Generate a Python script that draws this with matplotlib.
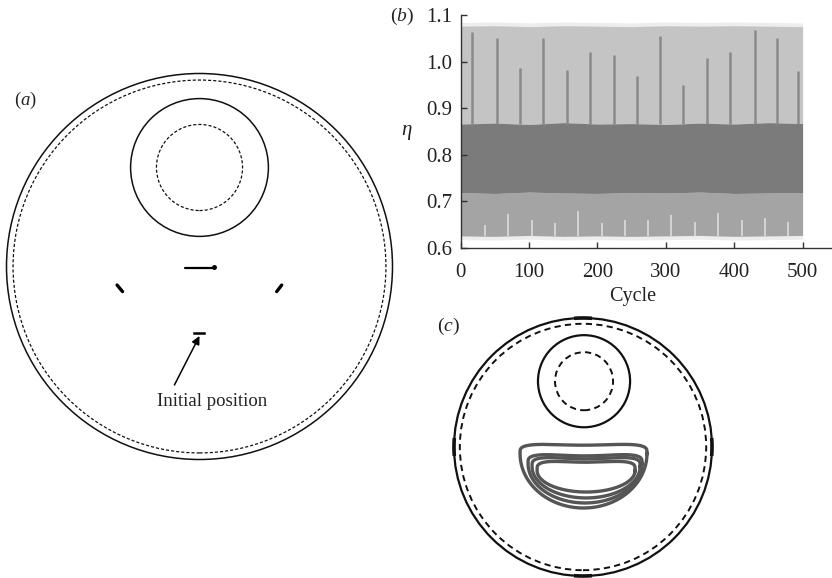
import numpy as np
import matplotlib
matplotlib.use("Agg")
import matplotlib.pyplot as plt
from matplotlib.patches import Circle, Arc

plt.rcParams['font.family'] = ['Liberation Serif', 'DejaVu Serif']
plt.rcParams['mathtext.fontset'] = 'custom'
plt.rcParams['mathtext.rm'] = 'Liberation Serif'
plt.rcParams['mathtext.it'] = 'Liberation Serif:italic'

# ---- panel (b): efficiency eta over 500 cycles ----
cycle_grid = [0, 50, 100, 150, 200, 250, 300, 350, 400, 450, 500]
light_top = [1.076, 1.077, 1.075, 1.077, 1.076, 1.075, 1.077, 1.076, 1.077, 1.076, 1.075]
light_bottom = [0.626, 0.625, 0.627, 0.625, 0.626, 0.625, 0.626, 0.627, 0.625, 0.626, 0.627]
dark_top = [0.866, 0.868, 0.865, 0.869, 0.866, 0.867, 0.865, 0.868, 0.866, 0.869, 0.867]
dark_bottom = [0.719, 0.717, 0.720, 0.718, 0.717, 0.719, 0.718, 0.720, 0.717, 0.718, 0.719]
spike_cycles = [16, 53, 87, 121, 155, 189, 224, 258, 291, 325, 360, 394, 430, 462, 494]
spike_tops = [1.064, 1.05, 0.986, 1.05, 0.982, 1.02, 1.014, 0.97, 1.054, 0.95, 1.007, 1.02, 1.068, 1.05, 0.98]
notch_cycles = [35, 69, 104, 138, 172, 206, 240, 274, 308, 343, 376, 411, 445, 479]
notch_tops = [0.65, 0.674, 0.66, 0.653, 0.68, 0.653, 0.66, 0.66, 0.67, 0.655, 0.675, 0.66, 0.665, 0.655]
x_ticks = [0, 100, 200, 300, 400, 500]
y_ticks = [0.6, 0.7, 0.8, 0.9, 1.0, 1.1]

# ---- panels (a) and (c): geometry, outer radius = 1 ----
outer_dashed_a = 0.966
inner_center_a = (0.0, 0.513)
inner_radius_a = 0.357
inner_dashed_a = 0.223
mark_segments = [((-0.075, -0.008), (0.068, -0.008)),
                 ((-0.427, -0.096), (-0.399, -0.13)),
                 ((0.426, -0.096), (0.40, -0.13))]
start_segment = ((-0.027, -0.343), (0.025, -0.343))
arrow_tail = (-0.13, -0.614)
arrow_head = (0.0, -0.36)
label_pos = (0.066, -0.70)

outer_dashed_c = 0.955
inner_center_c = (0.008, 0.51)
inner_radius_c = 0.357
inner_dashed_c = 0.225
knob_angles = [90, 180, 0, 270]
loop_cx = [0.004, 0.016, 0.024, 0.024]
loop_halfwidth = [0.492, 0.442, 0.419, 0.38]
loop_top = [0.039, -0.039, -0.062, -0.093]
loop_bottom = [-0.473, -0.434, -0.395, -0.349]
loop_sag = [0.025, 0.03, 0.03, 0.025]

W, H = 832, 578
fig = plt.figure(figsize=(W / 100, H / 100), dpi=100)


def px_axes(x0, y0, x1, y1):
    # box given in picture pixels (top-left origin)
    return fig.add_axes([x0 / W, 1 - y1 / H, (x1 - x0) / W, (y1 - y0) / H])


def unit_axes(x0, y0, x1, y1, cx, cy, r):
    ax = px_axes(x0, y0, x1, y1)
    ax.set_xlim((x0 - cx) / r, (x1 - cx) / r)
    ax.set_ylim((cy - y1) / r, (cy - y0) / r)
    ax.axis('off')
    return ax


# (a)
axa = unit_axes(0, 40, 415, 480, 199.5, 266.5, 193)
axa.add_patch(Circle((0, 0), 1.0, fill=False, lw=1.1, color='#111111'))
axa.add_patch(Circle((0, 0), outer_dashed_a, fill=False, lw=0.9, color='#111111', ls=(0, (2.5, 1.6))))
axa.add_patch(Circle(inner_center_a, inner_radius_a, fill=False, lw=1.1, color='#111111'))
axa.add_patch(Circle(inner_center_a, inner_dashed_a, fill=False, lw=0.9, color='#111111', ls=(0, (2.5, 1.6))))
for i, (p, q) in enumerate(mark_segments):
    axa.plot([p[0], q[0]], [p[1], q[1]], color='black', lw=1.6 if i == 0 else 2.4,
             solid_capstyle='round')
axa.plot([mark_segments[0][1][0] + 0.008], [mark_segments[0][1][1] + 0.003], 'o', color='black', ms=2.5)
axa.plot([start_segment[0][0], start_segment[1][0]], [start_segment[0][1], start_segment[1][1]],
         color='black', lw=1.8)
axa.annotate('', xy=arrow_head, xytext=arrow_tail,
             arrowprops=dict(arrowstyle='-|>', color='black', lw=1.1,
                             mutation_scale=12, shrinkA=0, shrinkB=0))
axa.text(label_pos[0], label_pos[1], 'Initial position', ha='center', va='center',
         fontsize=13.5, color='#222222')
fig.text(25 / W, 1 - 100 / H, '($a$)', ha='center', va='center', fontsize=13.5, color='#222222')

# (b)
axb = px_axes(460.7, 15, 832, 248)
axb.fill_between(cycle_grid, [t + 0.008 for t in light_top], [b - 0.008 for b in light_bottom],
                 color='#ededed', lw=0)
axb.fill_between(cycle_grid, light_top, dark_top, color='#c4c4c4', lw=0)
axb.fill_between(cycle_grid, dark_bottom, light_bottom, color='#a4a4a4', lw=0)
axb.vlines(notch_cycles, light_bottom[0], notch_tops, color='#dcdcdc', lw=1.2)
axb.vlines(spike_cycles, dark_top[0], spike_tops, color='#8a8a8a', lw=1.8)
axb.fill_between(cycle_grid, dark_bottom, dark_top, color='#7b7b7b', lw=0)
axb.set_xlim(0, 543)
axb.set_ylim(0.6, 1.1)
axb.set_xticks(x_ticks)
axb.set_yticks(y_ticks)
axb.set_yticklabels(['%.1f' % v for v in y_ticks])
for s in ['top', 'right']:
    axb.spines[s].set_visible(False)
for s in ['left', 'bottom']:
    axb.spines[s].set_color('#333333')
    axb.spines[s].set_linewidth(1.0)
axb.tick_params(direction='in', length=4, width=1.0, color='#333333',
                labelsize=15, labelcolor='#222222')
axb.tick_params(axis='x', pad=11)
axb.tick_params(axis='y', pad=6)
axb.set_xlabel('Cycle', fontsize=14.5, color='#222222', va='center')
axb.xaxis.set_label_coords(0.464, -0.21)
axb.set_ylabel(r'$\eta$', fontsize=15, rotation=0, color='#222222', va='center')
axb.yaxis.set_label_coords(-0.145, 0.497)
fig.text(402 / W, 1 - 16 / H, '($b$)', ha='center', va='center', fontsize=14, color='#222222')

# (c)
axc = unit_axes(440, 300, 720, 578, 583, 447, 129)
axc.add_patch(Circle((0, 0), 1.0, fill=False, lw=1.6, color='#111111'))
axc.add_patch(Circle((0, 0), outer_dashed_c, fill=False, lw=1.4, color='#111111', ls=(0, (3.2, 2.2))))
for a in knob_angles:
    axc.add_patch(Arc((0, 0), 2.0, 2.0, theta1=a - 4, theta2=a + 4, lw=2.6, color='#111111'))
axc.add_patch(Circle(inner_center_c, inner_radius_c, fill=False, lw=1.6, color='#111111'))
axc.add_patch(Circle(inner_center_c, inner_dashed_c, fill=False, lw=1.4, color='#111111',
                     ls=(0, (3.2, 2.2))))
th_up = np.linspace(0, np.pi, 160)
th_lo = np.linspace(np.pi, 2 * np.pi, 160)
for cx, w, top, bot, sag in zip(loop_cx, loop_halfwidth, loop_top, loop_bottom, loop_sag):
    side = top - 0.09
    xu = cx + w * np.cos(th_up)
    yu = side + (top - side) * np.sin(th_up) ** 0.45 - sag * np.sin(th_up) ** 4
    xl = cx + w * np.cos(th_lo)
    yl = side + (side - bot) * np.sin(th_lo)
    axc.plot(np.r_[xu, xl, xu[:1]], np.r_[yu, yl, yu[:1]], color='#555555', lw=2.4)
fig.text(448 / W, 1 - 326 / H, '($c$)', ha='center', va='center', fontsize=14, color='#222222')

fig.savefig('out.png', dpi=100)
